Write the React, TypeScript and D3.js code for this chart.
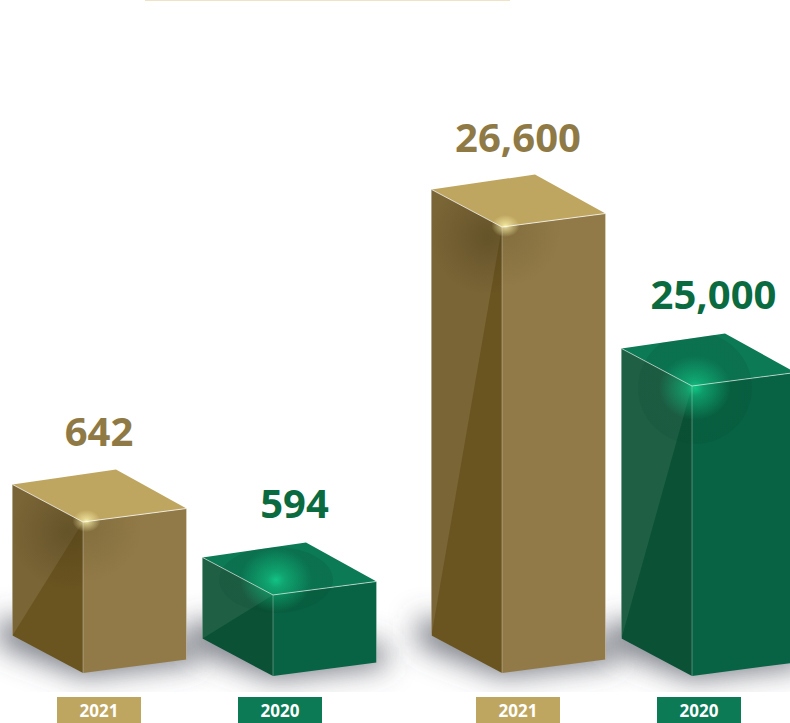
import React from "react";
import * as d3 from "d3";

const panels = ["first", "second"];
const years = ["2021", "2020"];
const firstValues = [642, 594];
const secondValues = [26600, 25000];

const W = 790, H = 723;
const LEFT = { dx: -70.5, dy: -37.5 };
const RIGHT = { dx: 103.5, dy: -13.5 };
const FONT = "'Open Sans', 'Noto Sans', sans-serif";
const labelLift = [24, 24, 23, 25];

const yFirst = d3.scaleLinear().domain([538.4, 642]).range([0, 151]);
const ySecond = d3.scaleLinear().domain([22026, 26600]).range([0, 446]);
const xPanel = d3.scalePoint<string>().domain(panels).range([83, 502]);
const xYear = d3.scalePoint<string>().domain(years).range([0, 190]);

const style: Record<string, any> = {
  "2021": {
    top: "#bfa660", right: "#917a47", leftLight: "#7a6536", leftDark: "#6a5420",
    text: "#8f7a46", tag: "#bfa660", base: 673, edge: 0.75,
    labelDx: 16, tagDx: -26, glow: "#f8efa8", halo: "#4a3c18",
  },
  "2020": {
    top: "#0b7a55", right: "#076343", leftLight: "#1f6045", leftDark: "#0a5135",
    text: "#0b6b40", tag: "#0b7a55", base: 676, edge: 0.6,
    labelDx: 21.5, tagDx: -35, glow: "#12c384", halo: "#0a4a32",
  },
};

const poly = (pts: [number, number][]) => {
  const p = d3.path();
  pts.forEach(([x, y], i) => (i ? p.lineTo(x, y) : p.moveTo(x, y)));
  p.closePath();
  return p.toString();
};

const rows = panels.flatMap((panel, pi) =>
  years.map((year, yi) => {
    const value = (pi === 0 ? firstValues : secondValues)[yi];
    const scale = pi === 0 ? yFirst : ySecond;
    const s = style[year];
    const fx = (xPanel(panel) as number) + (xYear(year) as number);
    const by = s.base;
    const ty = by - scale(value);
    return { id: `b${pi}${yi}`, panel, year, value, s, fx, by, ty, green: yi === 1, pi, lift: labelLift[pi * 2 + yi] };
  })
);

function Box({ r }: { r: (typeof rows)[number] }) {
  const { fx, by, ty, s, id, green, pi } = r;
  const lt: [number, number] = [fx + LEFT.dx, ty + LEFT.dy];
  const lb: [number, number] = [fx + LEFT.dx, by + LEFT.dy];
  const rt: [number, number] = [fx + RIGHT.dx, ty + RIGHT.dy];
  const rb: [number, number] = [fx + RIGHT.dx, by + RIGHT.dy];
  const ft: [number, number] = [fx, ty];
  const fb: [number, number] = [fx, by];
  const bk: [number, number] = [fx + LEFT.dx + RIGHT.dx, ty + LEFT.dy + RIGHT.dy - 1.5];
  const gx = fx + (green ? 3 : 3.5);
  const gy = green ? ty - (pi === 0 ? 15 : -2) : ty - 1;
  const ry = green && pi === 0 ? 33 : 56;
  const silhouette = poly([lt, bk, rt, rb, fb, lb]);
  return (
    <g>
      <clipPath id={`${id}c`}><path d={silhouette} /></clipPath>
      <clipPath id={`${id}l`}><path d={poly([lt, ft, fb, lb])} /></clipPath>
      <clipPath id={`${id}r`}><path d={poly([ft, rt, rb, fb])} /></clipPath>
      <path d={poly([lt, bk, rt, ft])} fill={s.top} />
      <path d={poly([ft, rt, rb, fb])} fill={s.right} />
      <path d={poly([lt, ft, fb, lb])} fill={s.leftDark} />
      <path d={poly([lt, ft, lb])} fill={s.leftLight} />
      {green ? (
        <g clipPath={`url(#${id}c)`}>
          <ellipse cx={gx} cy={gy} rx={57} ry={ry} fill={`url(#${id}h)`} />
        </g>
      ) : (
        <>
          <g clipPath={`url(#${id}l)`}>
            <circle cx={fx - 14} cy={ty + 10} r={58} fill={`url(#${id}h)`} opacity={0.8} />
          </g>
          <g clipPath={`url(#${id}r)`}>
            <circle cx={fx + 4} cy={ty + 4} r={56} fill={`url(#${id}h)`} opacity={0.35} />
          </g>
        </>
      )}
      <g clipPath={`url(#${id}c)`}>
        <ellipse cx={gx} cy={gy} rx={green ? 36 : 14} ry={green ? Math.min(ry, 32) : 11} fill={`url(#${id}g)`} />
      </g>
      <path d={`M${lt}L${ft}L${rt}`} fill="none" stroke="#fff" strokeOpacity={s.edge} strokeWidth={1} />
      <path d={`M${ft}L${fb}`} stroke="#fff" strokeOpacity={0.3} strokeWidth={1} />
      <path d={`M${lt}L${lb}M${rt}L${rb}`} stroke="#fff" strokeOpacity={0.25} strokeWidth={1} />
      <text x={fx + s.labelDx} y={bk[1] - r.lift} textAnchor="middle" fontFamily={FONT} fontWeight={700}
        fontSize={40} fill={s.text}>
        {d3.format(",")(r.value)}
      </text>
      <rect x={fx + s.tagDx} y={697} width={84} height={26} fill={s.tag} />
      <text x={fx + s.tagDx + 42} y={717} textAnchor="middle" fontFamily={FONT} fontWeight={700} fontSize={17} fill="#fff">
        {r.year}
      </text>
    </g>
  );
}

export default function App() {
  return (
    <svg width={W} height={H} viewBox={`0 0 ${W} ${H}`}
      style={{ position: "absolute", left: 0, top: 0, display: "block", background: "#fff" }}>
      <defs>
        <filter id="blur" x="-50%" y="-80%" width="200%" height="260%">
          <feGaussianBlur stdDeviation="14" />
        </filter>
        <clipPath id="floor"><rect x={0} y={0} width={W} height={692} /></clipPath>
        {rows.map((r) => (
          <React.Fragment key={r.id}>
            <radialGradient id={`${r.id}h`}>
              {r.green ? (
                <>
                  <stop offset="0%" stopColor={r.s.halo} stopOpacity={0.12} />
                  <stop offset="100%" stopColor={r.s.halo} stopOpacity={0.2} />
                </>
              ) : (
                <>
                  <stop offset="0%" stopColor={r.s.halo} stopOpacity={0.55} />
                  <stop offset="45%" stopColor={r.s.halo} stopOpacity={0.3} />
                  <stop offset="100%" stopColor={r.s.halo} stopOpacity={0} />
                </>
              )}
            </radialGradient>
            <radialGradient id={`${r.id}g`}>
              <stop offset="0%" stopColor={r.s.glow} stopOpacity={1} />
              <stop offset="25%" stopColor={r.s.glow} stopOpacity={r.green ? 0.6 : 0.65} />
              <stop offset="100%" stopColor={r.s.glow} stopOpacity={0} />
            </radialGradient>
          </React.Fragment>
        ))}
      </defs>
      <rect x={145} y={0} width={365} height={1} fill="#eee3c6" />
      <g clipPath="url(#floor)">
        {rows.map((r) => (
          <path key={r.id} filter="url(#blur)" fill="#50545f" fillOpacity={0.75}
            d={poly([
              [r.fx + LEFT.dx - 14, r.by + LEFT.dy - 18],
              [r.fx + LEFT.dx - 14, r.by + LEFT.dy + 10],
              [r.fx, r.by + 4],
              [r.fx + RIGHT.dx + 10, r.by + RIGHT.dy + 4],
              [r.fx + RIGHT.dx + 10, r.by + RIGHT.dy - 18],
            ])} />
        ))}
      </g>
      {rows.map((r) => <Box key={r.id} r={r} />)}
    </svg>
  );
}
